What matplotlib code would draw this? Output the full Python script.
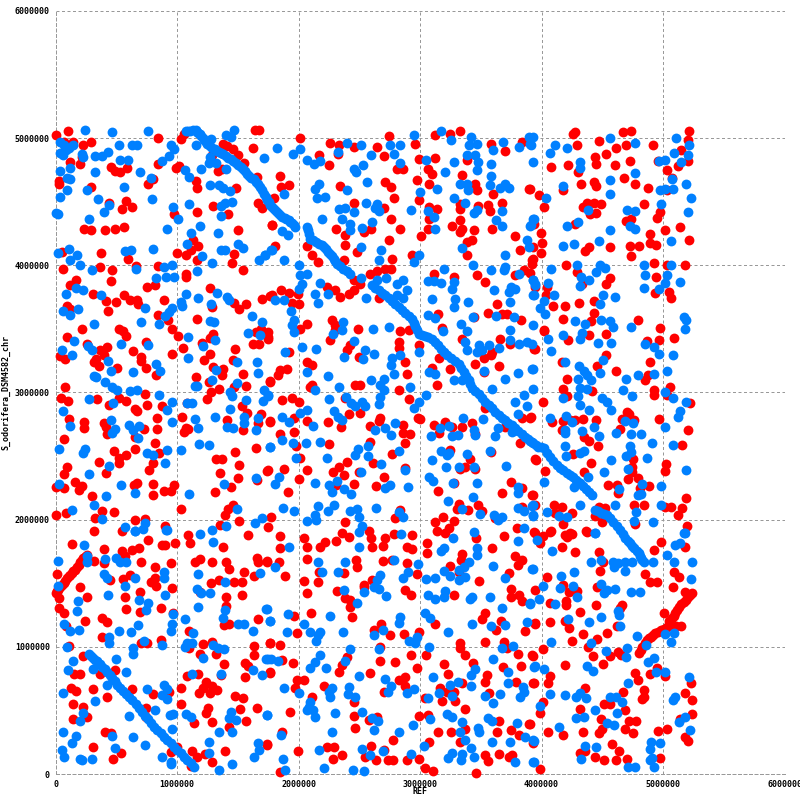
#!/usr/bin/env python
'''Dot plot of REF against S_odorifera_DSM4582_chr.

Positions below are read off the picture, in thousands of bases.
'''
import numpy as np
import matplotlib
matplotlib.use('Agg')
import matplotlib.pyplot as plt

# forward matches (red)
red_diag_low = [(0,1423),(10,1436),(20,1450),(36,1470),(52,1488),(66,1504),(80,1520),(94,1538),(107,1554),(121,1567),(135,1580),(148,1594),(162,1607),(176,1626),(190,1645),(204,1665),(218,1685),(229,1695),(240,1705),(250,1715),(259,1725)]
red_diag_high = [(4799,954),(4815,977),(4830,1000),(4848,1027),(4867,1053),(4884,1067),(4900,1080),(4918,1093),(4936,1106),(4960,1118),(4985,1130),(5008,1144),(5032,1158),(5050,1200),(5075,1225),(5088,1244),(5101,1263),(5118,1287),(5135,1310),(5152,1333),(5169,1355),(5187,1372),(5205,1390),(5222,1405),(5238,1420),(5060,1170),(5110,1165),(5150,1160)]
red_top_left = [(0,5023),(100,5054),(66,4966),(143,4970),(226,4947),(292,4968),(116,4812),(198,4797),(218,4848),(25,4665),(25,4640),(292,4618),(457,4775),(493,4739),(534,4731),(590,4762),(438,4490),(579,4509),(545,4444),(628,4459),(231,4287),(292,4279),(408,4279),(488,4287),(565,4300),(55,4104),(375,4099),(595,4052),(58,3974),(364,3987),(463,3966),(661,3992),(843,5000),(763,4640),(804,4678),(843,4796),(995,4765),(1017,4783),(1030,4992),(1058,5031),(1154,4663),(1165,4608),(1165,4420),(975,4405),(1298,4467),(1416,4405),(1504,4274),(1780,4318),(1135,4201),(1174,4151),(1118,4117),(1077,4083),(1000,4097),(1471,4091),(1452,4021),(1545,3966),(843,3992),(1168,4039),(1375,4953),(1411,4940),(1463,4914),(1504,4869),(1554,4801),(1284,4869),(1339,4739),(1369,4757),(1656,4697),(1482,4611),(1628,4921),(1640,5062),(1672,5062),(1670,4493),(1697,4451)]
red_mid_left = [(457,3878),(171,3888),(116,3846),(306,3776),(416,3718),(496,3710),(562,3768),(617,3731),(672,3728),(680,3697),(430,3639),(94,3684),(121,3658),(749,3828),(815,3846),(893,3728),(843,3610),(928,3571),(961,3500),(1011,3445),(1077,3933),(1077,3905),(1050,3351),(1168,3579),(1273,3823),(218,3500),(91,3440),(521,3500),(554,3482),(581,3445),(747,3401),(256,3383),(364,3338),(424,3356),(639,3330),(961,3304),(397,3291),(39,3286),(80,3265),(333,3265),(320,3238),(355,3207),(507,3196),(700,3283),(700,3244),(744,3196),(829,3141),(80,3045),(47,2958),(102,2934),(342,2950),(444,2898),(521,2958),(584,2937),(653,2872),(667,2853),(749,2898),(736,2990),(876,2890),(1041,2809),(113,2788),(231,2767),(231,2720),(397,2759),(416,2728),(424,2675),(727,2714),(838,2801),(838,2714),(653,2649),(74,2631),(818,2604),(479,2542),(658,2552),(851,2526),(584,2505),(521,2484),(521,2447),(355,2455),(802,2447),(769,2387),(94,2418),(74,2358),(413,2369),(157,2295),(218,2264),(190,2235),(0,2256),(74,2251),(645,2269),(672,2290),(802,2282),(802,2196),(893,2227),(948,2227),(975,2269),(300,2190),(383,2067),(479,2059),(6,2033),(88,2054),(328,2012),(653,1999),(733,2007),(898,1947),(1036,2086),(1072,2720),(1058,2688),(1094,2714),(1080,2919),(1160,3121),(1265,3081),(1204,3390),(1273,3304),(1223,3257),(1295,3461),(1270,3427),(1295,3204),(1375,3186),(1369,3139),(1479,3343),(1457,3257),(1546,3146),(1570,3055),(1471,3042),(1347,3024),(1278,3003),(1251,2950),(1532,2890),(1573,2838),(1408,2780),(1546,2707),(1479,2536),(1648,2565),(1320,2479),(1369,2479),(1510,2426),(1353,2369),(1499,2329),(1656,2314),(1741,2382),(1314,2217),(1444,2256),(1416,2086),(1394,2033),(1457,2112),(1510,1986),(1353,1955),(1697,3736),(1769,3762),(1471,3702),(1512,3658),(1568,3697),(1292,3671),(1628,3383),(1678,3383),(1650,3474),(1747,3435),(1692,3500),(1769,3081),(1692,2832),(1664,2762),(1763,2767)]
red_low_left = [(132,1808),(314,1908),(548,1908),(397,1769),(548,1751),(576,1711),(631,1764),(691,1777),(763,1837),(880,1801),(905,1801),(983,1816),(320,1672),(397,1659),(705,1667),(818,1627),(953,1659),(1088,1882),(1108,1816),(1587,1882),(1375,1782),(1146,1667),(1190,1690),(1289,1667),(1405,1667),(1424,1612),(1554,1588),(1656,1698),(1670,1667),(1739,1672),(1636,1554),(1532,1509),(1471,1509),(1347,1522),(1278,1501),(11,1572),(198,1470),(256,1391),(446,1527),(556,1533),(617,1567),(782,1507),(818,1541),(829,1480),(961,1459),(694,1430),(573,1391),(584,1297),(694,1273),(870,1302),(970,1265),(27,1383),(30,1304),(66,1265),(245,1207),(380,1226),(424,1199),(85,1160),(113,1003),(383,1076),(700,1029),(755,1029),(870,1055),(1099,1126),(1099,990),(1187,945),(1212,1021),(1289,1039),(1322,945),(1388,863),(1190,1435),(1405,1391),(1532,1407),(1405,1325),(1388,1173),(1430,1181),(1670,1220),(1636,1008),(1636,932),(1562,871),(1587,853),(1562,766),(1769,1029),(1763,798),(229,929),(493,819),(369,787),(154,785),(198,785),(129,677),(168,651),(309,669),(424,609),(631,667),(802,630),(934,643),(1036,675),(1036,549),(140,549),(226,530),(256,451),(140,436),(747,517),(741,451),(410,328),(457,320),(312,210),(540,163),(474,116),(1003,215),(948,171),(1124,179),(1168,137),(1231,157),(1119,63),(1289,92),(1397,179),(1141,399),(1287,407),(1427,373),(1565,420),(1521,509),(1659,517),(1240,483),(1256,517),(1085,767),(1176,785),(1361,780),(1479,617),(1540,601),(1185,635),(1218,675),(1242,722),(1273,635),(1284,693),(1328,661),(1739,228)]
red_top_mid = [(2009,5004),(2256,4964),(2330,4944),(2453,4930),(2324,4878),(2165,4865),(2247,4792),(2645,4930),(2700,4857),(2741,5017),(2961,4951),(3125,5022),(3243,5035),(3331,5056),(3120,4847),(2988,4839),(2810,4760),(2857,4755),(3065,4760),(3098,4721),(1849,4700),(1858,4616),(1918,4629),(1800,4532),(2343,4621),(2714,4655),(2758,4616),(2975,4668),(3070,4642),(3345,4708),(3455,4642),(3468,4595),(3386,4826),(3584,4957),(3696,4896),(3839,4970),(3894,4603),(3600,4564),(3674,4493),(2782,4532),(2988,4516),(2453,4493),(2700,4454),(3139,4440),(3070,4459),(3070,4367),(3326,4485),(3331,4446),(3474,4464),(3559,4472),(3573,4427),(2758,4362),(1781,4320),(2310,4283),(2599,4288),(2535,4262),(2385,4239),(2832,4288),(3062,4288),(3007,4234),(3263,4309),(3326,4354),(3345,4288),(3331,4262),(3441,4275),(3592,4283),(2741,4202),(3427,4202),(3386,4184),(3779,4228),(2385,4163),(3935,4328),(1808,4152),(2069,4150),(2110,4084),(2157,4029),(2481,4105),(2376,4040),(2769,4047),(2933,4084),(3386,4079),(3825,4123),(3921,4040),(3468,3922),(3537,3872),(3112,3930),(3276,3909),(3784,3922),(3853,3961),(3907,3943),(2714,3974),(2645,3956),(2590,3935),(2763,3974),(2453,3882),(2508,3856),(2453,3804),(2412,3778),(2343,3751),(2297,3804),(2234,3830),(1786,3765),(1858,3804),(1918,3785),(1992,3778),(1946,3704),(2000,3694),(2659,3744),(3633,3699),(3145,3620),(3559,3628),(3674,3620),(3715,3620),(3833,3568),(3441,3594),(2069,3542),(2014,3503),(2275,3568),(2297,3529),(2297,3489),(1748,3476),(1748,3424),(2256,3416),(2489,3500),(2837,3482),(2906,3489),(3180,3510),(3345,3424),(3655,3424),(3737,3385),(3935,3345),(2824,3398),(2824,3351),(2988,3371),(2426,3371),(2398,3332),(1918,3319),(2500,3280),(3153,3275),(2873,3240),(2074,3240),(2110,3214),(3592,3319),(3586,3293),(3523,3275),(3455,3227),(3647,3207),(3243,3183),(3098,3196),(1904,3188),(1849,3180),(1828,3136),(1767,3089),(2892,3143),(2110,3057),(2467,3057),(2508,3057),(2824,3023),(3523,3162),(3139,3057)]
red_center = [(2096,3045),(1863,2940),(1946,2953),(2000,2922),(1762,2775),(1959,2796),(2069,2775),(2239,2765),(1967,2686),(1849,2670),(1978,2581),(2014,2482),(2247,2592),(2349,2731),(2412,2827),(2508,2835),(2385,2953),(2585,2733),(2673,2796),(2659,2775),(2859,2744),(2856,2678),(2920,2670),(2878,2600),(2590,2613),(2769,2513),(2906,2948),(2983,2796),(3002,2788),(3112,2744),(3153,2678),(3208,2765),(3262,2730),(3345,2730),(3455,2670),(3427,2757),(3537,2875),(3702,2730),(3839,2796),(3913,2804),(3825,2600),(1745,2390),(1877,2395),(2074,2390),(2000,2317),(1910,2214),(2398,2450),(2330,2416),(2283,2372),(2371,2351),(2494,2372),(2610,2442),(2700,2332),(2453,2280),(2310,2272),(2640,2264),(2873,2403),(3145,2225),(3243,2547),(3414,2476),(3372,2416),(3331,2395),(3455,2395),(3276,2285),(3584,2534),(3749,2293),(3674,2206),(3839,2246),(3921,2193),(3943,2476),(3318,2120),(3304,2083),(3394,2075),(3474,2115),(3510,2068),(3619,2010),(3839,2102),(2837,2075),(2796,2010),(1773,2018),(1748,1939),(2379,1978),(3120,1978),(3189,2018),(3276,1989),(3139,1910),(3208,1892),(3235,1931),(1849,1874),(2042,1853),(2069,1787),(2220,1827),(2179,1787),(2310,1832),(2357,1897),(2412,1866),(2577,1910),(2596,1858),(2708,1858),(2692,1790),(2604,1782),(2782,1884),(2933,1879),(2892,1787),(2933,1769),(3057,1814),(3057,1740),(3460,1853),(3592,1774),(3688,1871),(3798,1931),(3935,1905),(1849,1774),(1740,1669),(1836,1669),(2074,1690),(2472,1682),(2481,1630),(2692,1675),(2769,1682),(2892,1656),(3345,1730),(3339,1682),(3784,1717),(3839,1682),(3803,1643),(2165,1586),(2371,1578),(1891,1557),(2042,1520),(2157,1512),(3729,1578),(2974,1570),(3482,1520),(2535,1486),(2604,1525),(3249,1638),(3318,1591)]
red_bottom_mid = [(2069,1425),(2316,1439),(2385,1386),(2426,1368),(2426,1315),(2535,1473),(2873,1446),(2928,1407),(3276,1407),(1967,1245),(2102,1263),(2439,1237),(3120,1177),(3531,1268),(3510,1216),(3666,1203),(3625,1132),(3748,1452),(3751,1389),(3817,1407),(3839,1363),(3949,1184),(3866,1124),(2618,1132),(2681,1179),(2755,1093),(2865,1098),(2988,1119),(1987,1106),(1767,1027),(1849,1014),(2673,1001),(3331,1027),(3326,988),(3367,935),(3531,1035),(3693,1035),(3715,988),(3803,943),(3921,935),(1863,896),(1951,870),(2398,917),(2357,857),(2330,799),(2667,888),(2791,883),(2928,935),(3049,935),(2974,831),(3194,862),(3436,870),(3680,839),(3833,849),(1767,799),(2590,791),(3227,784),(3551,778),(3537,721),(1987,739),(2042,739),(1973,673),(2878,760),(2824,739),(2873,692),(2206,694),(3792,721),(3935,713),(3345,718),(3167,673),(3221,647),(3276,647),(2700,642),(2110,608),(2453,563),(3043,595),(3180,577),(3290,574),(3564,634),(3367,508),(1932,485),(2453,456),(2645,446),(2577,425),(2993,456),(3065,464),(2461,359),(3647,417),(3894,390),(3748,346),(3811,307),(3367,351),(3331,249),(3145,328),(3257,328),(3633,333),(1863,333),(2774,265),(3070,249),(1740,233),(1999,178),(2234,210),(2289,210),(2596,218),(2700,189),(2357,149),(2549,136),(2283,115),(2637,108),(2736,108),(2774,110),(2892,108),(2988,115),(3038,50),(3106,26),(3537,149),(3559,102),(3647,155),(3757,149),(3729,136),(1849,13),(3463,5)]
red_bottom_right = [(3948,1897),(4011,1871),(4072,1905),(4209,1866),(4250,1887),(3989,1818),(4168,1787),(4272,1742),(4373,1905),(4470,1742),(4983,1821),(4930,1761),(5183,1782),(4505,1664),(4478,1593),(4854,1570),(5087,1585),(5128,1546),(4895,1507),(4950,1507),(5079,1473),(5177,1433),(4044,1546),(4181,1486),(4223,1433),(4291,1441),(4456,1467),(3943,1446),(4072,1342),(4201,1363),(4201,1328),(4448,1328),(4662,1328),(4648,1302),(4313,1276),(5005,1263),(3948,1177),(4066,1192),(4195,1205),(4223,1145),(4620,1166),(4538,1106),(4338,1098),(4255,1048),(4456,1059),(4379,996),(4011,980),(3929,930),(4420,928),(4566,930),(4626,962),(4653,936),(4190,857),(4505,862),(4766,791),(4791,739),(4889,784),(4950,831),(5018,770),(4072,770),(4050,718),(3934,713),(5230,713),(4354,679),(4670,642),(4840,660),(4840,608),(4826,590),(5177,634),(5238,579),(4511,548),(4566,550),(4011,569),(3984,482),(4319,508),(4684,501),(5238,472),(5142,430),(4491,432),(4722,419),(4777,414),(4684,356),(4749,320),(4470,320),(4497,351),(4338,328),(4050,328),(4181,304),(4955,338),(5037,351),(5177,288),(5205,257),(3907,390),(3934,241),(4579,233),(4634,178),(4319,163),(4360,178),(4437,136),(4513,110),(4612,110),(4700,118),(4972,128),(3989,42)]
red_top_right = [(4277,5048),(4258,5030),(4667,5051),(4736,5056),(4470,4978),(4291,4949),(4695,4949),(4612,4925),(4914,4949),(5210,5056),(5202,4983),(5147,4909),(4530,4878),(4437,4852),(4448,4799),(4077,4773),(4214,4792),(4297,4734),(4601,4792),(4730,4820),(4958,4820),(5120,4781),(5202,4820),(5037,4747),(5073,4689),(3907,4603),(3976,4550),(4181,4590),(4321,4642),(4428,4655),(4448,4624),(4681,4687),(4769,4642),(4873,4611),(5032,4590),(4017,4459),(4338,4459),(4373,4493),(4428,4493),(4489,4485),(4401,4406),(4448,4414),(4840,4485),(4977,4420),(4950,4375),(4736,4367),(4695,4346),(4277,4328),(5136,4302),(3995,4257),(5018,4275),(4895,4249),(5210,4197),(4003,4178),(4889,4178),(4941,4163),(4725,4155),(4802,4155),(4560,4147),(4395,4147),(4354,4113),(3934,4144),(3995,4100),(4736,4076),(3934,4053),(3921,4013),(4198,4005),(4922,4021),(5037,4005),(5177,4005),(4291,3948),(4566,3901),(4527,3856),(4332,3856),(4939,3909),(4936,3783),(5046,3793),(5065,3744),(4044,3830),(3948,3830),(4039,3764),(4091,3683),(4190,3683),(4305,3707),(4434,3717),(4428,3628),(4181,3578),(4791,3573),(4409,3560),(4972,3510),(4017,3495)]
red_mid_right = [(4017,3482),(4217,3416),(4395,3456),(4530,3463),(3943,3346),(4867,3403),(4963,3411),(5087,3432),(4533,3298),(4456,3209),(4612,3167),(4889,3236),(4168,3236),(4873,3141),(4848,3097),(4209,3110),(4181,3026),(4209,2971),(4415,3013),(4930,3018),(4930,2979),(5059,3044),(5032,2979),(4009,2926),(3907,2803),(4703,2848),(4722,2827),(4085,2769),(4173,2774),(4236,2782),(4277,2782),(4338,2788),(4448,2782),(4662,2788),(4758,2782),(4963,2788),(5219,2918),(5205,2709),(4168,2704),(4648,2712),(4346,2651),(4395,2620),(4461,2578),(5155,2591),(4258,2520),(3956,2473),(4409,2442),(4752,2476),(5027,2434),(5018,2381),(4030,2381),(4352,2376),(4744,2415),(4744,2376),(4708,2316),(4791,2329),(4544,2271),(4620,2271),(4626,2211),(4812,2250),(4881,2261),(5186,2174),(3929,2193),(3948,2114),(4105,2114),(4168,2098),(4113,2049),(4255,2049),(4470,2101),(4524,2093),(4442,2028),(4502,1978),(4758,2114),(4840,2112),(5018,2098),(5065,2096),(5155,2088),(5120,2033),(4173,1962),(4771,1965),(5197,1949),(4077,1910),(4368,1910),(4236,1892),(4195,1879)]

# reverse matches (blue)
blue_diag_top = [(1072,5057),(1090,5058),(1110,5060),(1132,5061),(1154,5062),(1165,5051),(1175,5040),(1186,5029),(1196,5018),(1210,5002),(1225,4985),(1238,4969),(1251,4953),(1270,4939),(1290,4925),(1312,4912),(1333,4900),(1349,4892),(1365,4885),(1382,4872),(1400,4860),(1422,4847),(1444,4835),(1465,4820),(1485,4805),(1505,4787),(1526,4770),(1543,4754),(1560,4738),(1577,4721),(1595,4705),(1612,4690),(1630,4675),(1647,4657),(1664,4640),(1682,4615),(1700,4590),(1716,4562),(1733,4535),(1744,4515),(1755,4495),(1768,4477),(1781,4459),(1798,4442),(1815,4425),(1832,4409),(1849,4393),(1867,4384),(1885,4375),(1901,4364),(1918,4354),(1932,4342),(1945,4330),(1959,4316),(1973,4302),
    (2069,4302),(2077,4276),(2085,4250),(2096,4210),(2120,4197),(2145,4185),(2168,4171),(2192,4157),(2210,4141),(2228,4125),(2245,4108),(2261,4092),(2276,4071),(2290,4050),(2303,4031),(2316,4013),(2343,3994),(2370,3975),(2398,3955),(2426,3935),(2604,3843),(2632,3824),(2660,3805),(2687,3785),(2714,3765),(2742,3742),(2770,3720),(2797,3696),(2824,3673),(2852,3649),(2880,3625),(2907,3603),(2933,3581),(2947,3550),(2960,3520),(2974,3491),(2988,3463),(3014,3454),(3040,3445),(3069,3434),(3098,3424),(3122,3397),(3145,3370),(3170,3344),(3194,3319),(3225,3297),(3255,3275),(3287,3251),(3318,3227),(3340,3193),(3360,3160),(3380,3128),(3400,3096),(3414,3064),(3427,3032),(3455,3008),(3482,2985),(3510,2956),(3537,2927),(3564,2901),(3590,2875),(3618,2848),(3647,2822),(3674,2802),(3700,2782),(3728,2763),(3757,2744),(3784,2722),(3810,2700),(3838,2676),(3866,2652),(3885,2633),(3905,2615),(3920,2607),(3934,2599),(3955,2587),(3975,2575),(3996,2568),(4017,2560),(4044,2527),(4070,2495),(4098,2462),(4127,2429),(4154,2410),(4180,2390),(4208,2370),(4236,2350),(4258,2332),(4280,2315),(4300,2300),(4319,2285),(4342,2262),(4365,2240),(4390,2216),(4415,2193),
    (4442,2075),(4466,2065),(4490,2055),(4514,2045),(4538,2036),(4564,2010),(4590,1985),(4620,1950),(4648,1915),(4670,1885),(4690,1855),(4710,1834),(4730,1813),(4748,1794),(4765,1775),(4782,1755),(4799,1735),(4810,1717),(4820,1700),(4830,1685),(4840,1669)]
blue_diag_low = [(273,945),(289,930),(305,915),(323,900),(342,885),(363,865),(385,845),(405,826),(424,806),(445,780),(465,755),(486,728),(507,701),(531,678),(555,655),(579,632),(603,609),(632,580),(660,550),(686,520),(713,491),(737,460),(760,430),(785,401),(810,373),(838,346),(865,320),(892,294),(920,268),(947,241),(975,215),(1002,189),(1030,163),(1057,136),(1085,110),(1113,84),(1141,58)]
blue_top_left = [(240,5062),(463,5047),(760,5057),(33,4966),(66,4945),(107,4926),(143,4947),(39,4882),(61,4867),(85,4910),(218,4874),(226,4853),(328,4859),(383,4861),(430,4890),(521,4947),(631,4947),(672,4947),(529,4827),(595,4827),(39,4739),(116,4762),(325,4733),(694,4733),(94,4684),(116,4679),(788,4686),(562,4619),(94,4592),(259,4592),(41,4540),(347,4519),(793,4519),(438,4477),(397,4420),(0,4412),(19,4402),(273,4365),(920,4287),(1008,4365),(967,4459),(19,4099),(107,4130),(576,4112),(620,4117),(802,4130),(176,4078),(121,4044),(198,4005),(300,3966),(661,3974),(893,3987),(956,4005),(953,4945),(975,4911),(934,4859),(873,4822),(1066,4752),(1102,4692),(1198,4757),(1273,4632),(1347,4632),(1375,4606),(1438,4582),(1099,4483),(1361,4465),(1394,4491),(1449,4501),(1361,4389),(1190,4311),(1339,4256),(1116,4251),(1083,4170),(1207,4073),(1287,4021),(1361,4123),(1397,4123),(1501,4164),(1545,4138),(1678,4044),(1727,4078),(1775,4117),(1719,4843),(1471,5062),(1402,5023),(1444,5010),(1154,4945),(1273,4848),(1265,4801),(1320,4804),(1405,4757),(1278,4997)]
blue_mid_left = [(827,3899),(909,3907),(975,3907),(1168,3959),(171,3823),(226,3807),(85,3776),(375,3768),(58,3639),(116,3610),(185,3658),(736,3665),(961,3665),(934,3631),(901,3605),(1036,3710),(1044,3684),(1074,3776),(1176,3744),(1328,3783),(1411,3749),(1424,3728),(1281,3697),(1273,3566),(1306,3553),(1614,3605),(1697,3558),(705,3555),(851,3542),(314,3540),(1091,3438),(1581,3469),(1686,3453),(149,3406),(537,3383),(760,3375),(1314,3414),(1215,3369),(50,3335),(264,3369),(300,3335),(132,3296),(1094,3272),(430,3246),(457,3170),(827,3225),(859,3170),(639,3160),(1496,3241),(1656,3238),(1325,3178),(1670,3155),(314,3128),(331,3120),(408,3081),(466,3047),(507,3021),(617,3008),(667,3016),(851,2979),(1146,3055),(1168,3055),(1292,3100),(1493,3076),(1438,3003),(1449,2971),(1570,2942),(1719,3021),(1747,2969),(1711,2934),(273,2950),(471,2919),(961,2929),(920,2864),(58,2856),(1085,2919),(1121,2919),(1438,2872),(1314,2809),(1152,2793),(457,2785),(961,2767),(116,2738),(1554,2806),(1554,2762),(1664,2798),(603,2748),(636,2709),(686,2733),(493,2714),(463,2683),(1176,2720),(1411,2728),(1457,2720),(1648,2707),(678,2644),(240,2557),(223,2526),(28,2557),(1182,2597),(1267,2589),(920,2547),(1036,2549),(749,2526),(804,2510),(901,2447),(438,2421),(278,2358),(540,2269),(30,2282),(1383,2279),(1648,2329),(653,2211),(1099,2203),(413,2185),(314,2112),(132,2078),(1493,2086),(1703,2015),(380,2007),(1642,1976),(736,1976),(722,1929),(568,1942),(653,1910),(912,1921),(1289,1921),(1402,1953),(1769,2570)]
blue_low_left = [(231,1801),(17,1672),(259,1711),(259,1667),(408,1690),(496,1698),(529,1667),(581,1667),(397,1572),(424,1541),(658,1541),(893,1588),(893,1541),(17,1475),(570,1475),(430,1404),(182,1360),(176,1278),(686,1370),(760,1344),(744,1291),(901,1409),(74,1178),(116,1126),(193,1129),(521,1123),(620,1115),(678,1171),(438,1076),(438,1029),(727,1042),(879,1011),(967,1255),(959,1179),(950,1123),(1066,1218),(1130,1108),(1085,1034),(1121,1029),(1069,997),(94,997),(639,990),(636,942),(496,903),(140,890),(99,816),(309,824),(579,803),(424,701),(755,669),(893,701),(915,667),(873,622),(915,590),(325,572),(63,635),(821,504),(226,483),(204,417),(606,457),(945,462),(967,470),(1074,470),(1113,451),(959,357),(639,289),(61,328),(168,299),(463,299),(736,226),(132,241),(490,202),(55,189),(74,131),(198,116),(218,110),(300,118),(876,136),(948,92),(948,75),(1265,249),(1265,163),(1347,31),(1455,76),(1455,331),(1347,331),(1670,241),(1678,189),(1636,136),(1427,438),(1444,486),(1482,425),(1741,462),(1127,785),(1361,787),(1628,819),(1697,780),(1733,908),(1770,905),(1300,1011),(1339,990),(1383,982),(1212,911),(1380,1226),(1397,1291),(1504,1178),(1548,1178),(1628,1123),(1730,1299),(1763,1207),(1176,1312),(1162,1454),(1196,1423),(1273,1423),(1176,1572),(1397,1512),(1686,1580),(1190,1887),(1298,1824),(653,1908),(915,1921)]
blue_top_mid = [(1822,4925),(1951,4878),(2009,4917),(2069,4831),(2124,4799),(2179,4820),(2324,4891),(2398,4964),(2514,4949),(2593,4865),(2527,4792),(2453,4760),(2472,4734),(2755,4944),(2837,4944),(2782,4878),(2832,4807),(2953,5027),(3169,5056),(3252,4988),(3419,5009),(3400,4944),(3468,4951),(3386,4870),(3449,4865),(3474,4813),(3466,4752),(3049,4831),(3276,4813),(3202,4734),(3581,4799),(3600,4909),(3680,4970),(3812,4930),(3894,5009),(3916,4944),(3584,4702),(3573,4634),(2563,4655),(2165,4642),(2138,4598),(2398,4595),(2151,4530),(2214,4537),(1877,4564),(3139,4603),(2996,4577),(3331,4642),(3386,4642),(3392,4590),(3660,4608),(3702,4642),(3729,4608),(3276,4532),(3367,4493),(2555,4493),(2645,4485),(2632,4454),(2659,4425),(2330,4446),(2385,4454),(2453,4419),(2922,4438),(3062,4425),(3112,4380),(3441,4412),(3468,4433),(3674,4427),(2195,4367),(2357,4367),(2426,4328),(2426,4275),(2522,4296),(2604,4341),(3120,4288),(3625,4359),(3674,4309),(3907,4309),(3935,4367),(1863,4270),(1913,4241),(3345,4139),(3880,4202),(3894,4144),(2514,4144),(2678,4118),(1786,4118),(1726,4084),(1877,4045),(2988,4084),(2947,4029),(2659,4040),(3696,4079),(2000,4005),(3433,4000),(3194,3974),(3584,3961),(3702,3987),(3688,3961),(3811,3935),(3929,3882),(3949,3843),(2014,3922),(2069,3935),(2028,3856),(2000,3817),(2179,3864),(2514,3903),(2645,3888),(2719,3903),(2810,3856),(2857,3882),(2892,3809),(3065,3877),(3112,3877),(3175,3861),(3282,3872),(3263,3812),(3606,3809),(3751,3830),(3729,3791),(3784,3817),(2132,3778),(2239,3778),(1803,3725),(1877,3725),(1937,3641),(2157,3707),(2555,3746),(2810,3764),(2857,3746),(3095,3738),(3285,3738),(3276,3673),(3392,3715),(3740,3715),(3935,3764),(3062,3613),(3125,3589),(3436,3594),(3625,3602),(3770,3594),(3337,3537),(1967,3568),(1946,3529),(1959,3476),(2365,3555),(2357,3495),(2283,3463),(2610,3503),(2741,3516),(3189,3484),(3737,3489),(3386,3482),(3372,3398),(3386,3332),(3743,3411),(3811,3385),(3880,3398),(3921,3385),(3482,3371),(3510,3332),(3468,3319),(3564,3371),(3647,3351),(2453,3406),(2028,3358),(2143,3345),(1891,3319),(2544,3337),(2618,3306),(2988,3319),(2371,3280),(2527,3261),(2769,3275),(2837,3293),(2763,3214),(2782,3149),(2074,3162),(2239,3128),(2593,3102),(2700,3109),(2673,3057),(2700,3023),(3070,3162),(3125,3149),(3529,3170),(3803,3157),(3696,3109),(3921,3188),(3276,3096),(3345,3096),(2920,3044),(2138,3023),(2330,3044),(3592,3031)]
blue_center = [(2247,2948),(2393,2961),(2434,2914),(2467,2896),(2522,2922),(2544,2896),(2659,2906),(2673,2966),(2289,2856),(2324,2809),(2357,2783),(2069,2862),(2009,2835),(1863,2804),(1918,2765),(2116,2733),(1748,2979),(3049,2979),(2988,2927),(2947,2882),(3353,2796),(3515,2788),(3161,2717),(3235,2733),(3441,2704),(3455,2665),(3262,2660),(3312,2665),(3090,2657),(3779,2922),(3853,2979),(3880,2896),(3803,2830),(3641,2717),(3619,2657),(3757,2691),(2796,2757),(2632,2704),(2714,2717),(2763,2665),(1863,2626),(1954,2600),(2061,2600),(2173,2607),(1762,2568),(2571,2579),(2489,2555),(2461,2508),(2568,2503),(1978,2482),(2231,2482),(2824,2539),(3175,2539),(3222,2508),(3235,2521),(3383,2516),(3573,2539),(3098,2466),(2681,2437),(2878,2390),(3210,2411),(3318,2411),(3441,2416),(3707,2419),(2516,2377),(1836,2332),(1803,2277),(2138,2285),(2247,2272),(2316,2306),(2275,2214),(2371,2238),(2431,2201),(2708,2246),(2749,2272),(2900,2259),(3076,2332),(3106,2306),(3271,2285),(3466,2285),(3803,2259),(3803,2206),(3433,2175),(3227,2146),(3921,2110),(3803,2089),(3853,2068),(3929,2036),(1869,2089),(1967,2068),(2157,2110),(2289,2115),(2239,2070),(2420,2068),(2481,2083),(2494,2018),(2637,2089),(2824,2062),(2856,2018),(2132,2036),(2143,1997),(2069,1989),(3345,2083),(3496,2044),(3606,2036),(3674,2023),(3641,1997),(2522,1952),(2494,1905),(2845,1884),(3853,1931),(3441,1905),(3268,1853),(3803,1832),(1918,1782),(2494,1782),(3468,1774),(3468,1722),(3194,1779),(3172,1756),(2157,1664),(2385,1664),(2782,1682),(3400,1664),(3359,1630),(3318,1604),(3600,1638),(2980,1648),(1808,1625),(2192,1586),(2324,1586),(2673,1565),(2645,1525),(2898,1591),(3194,1599),(3921,1609),(3243,1557),(2859,1538),(3051,1531),(3125,1538),(3318,1525),(3372,1546),(3696,1538)]
blue_bottom_mid = [(2371,1446),(2541,1428),(2618,1473),(2659,1452),(2719,1399),(2481,1342),(3062,1407),(3125,1373),(3194,1394),(3208,1441),(3427,1394),(3408,1373),(3573,1389),(3674,1302),(3902,1342),(1740,1294),(1762,1205),(1910,1258),(2256,1245),(2042,1177),(2837,1237),(2829,1190),(3043,1263),(3084,1224),(3427,1177),(3584,1166),(3702,1171),(3880,1192),(1904,1114),(2096,1114),(2179,1119),(2160,1093),(2143,1048),(2365,1114),(2618,1093),(2692,1132),(2906,1046),(2961,1027),(2974,1079),(3227,1114),(3070,996),(2423,980),(2664,980),(3674,988),(3762,1006),(2173,933),(2138,883),(2091,831),(1753,901),(1830,891),(2379,891),(2228,831),(3597,904),(3935,844),(3449,823),(3419,778),(3721,799),(2494,773),(3104,765),(2708,744),(2763,694),(2733,642),(3312,726),(3249,700),(3419,694),(3724,713),(1877,673),(2275,679),(2247,647),(2256,608),(2412,681),(2404,626),(2467,603),(2947,666),(2892,634),(3153,634),(3262,616),(3655,626),(3847,687),(3853,647),(3825,608),(3537,613),(2000,634),(3062,595),(2091,569),(2083,529),(2069,503),(2118,503),(2138,451),(3600,556),(2302,477),(1740,464),(2522,485),(2604,438),(2654,419),(3221,469),(3262,446),(3084,435),(3345,411),(3556,438),(3592,419),(3795,398),(2942,383),(3477,359),(3482,333),(2618,346),(2275,333),(1855,307),(2824,328),(3331,328),(3866,294),(3935,260),(3367,265),(3592,249),(3740,249),(3029,223),(2165,189),(2522,197),(2692,181),(3419,202),(3262,163),(3230,123),(3345,157),(3337,108),(2590,149),(2928,155),(3441,134),(1869,115),(3779,92),(3935,92),(2206,45),(1891,32),(2445,32),(2535,24)]
blue_bottom_right = [(4437,1892),(3967,1839),(4085,1750),(5177,1892),(5101,1800),(5142,1813),(5037,1719),(5087,1664),(5235,1664),(4404,1664),(4486,1682),(4587,1669),(4593,1630),(4626,1661),(4689,1664),(4744,1669),(4684,1593),(4917,1664),(4264,1585),(3929,1609),(4159,1556),(4009,1478),(4154,1460),(4256,1478),(4486,1494),(4538,1446),(4511,1420),(4601,1452),(4736,1428),(4807,1428),(5227,1530),(4291,1389),(3976,1373),(4107,1336),(3907,1336),(4629,1281),(4634,1250),(4486,1237),(4214,1216),(4390,1192),(4642,1166),(5018,1098),(5087,1106),(5065,1035),(4785,1085),(4077,1035),(4406,1027),(4856,1011),(4533,970),(4703,988),(4695,922),(4922,912),(4878,878),(3943,849),(4017,823),(4373,849),(4420,807),(4941,799),(5016,804),(5210,765),(4708,713),(4066,626),(4190,618),(4283,608),(4313,639),(4365,595),(4566,608),(4612,603),(4662,569),(5098,608),(5079,582),(3984,535),(4437,501),(4620,477),(4283,438),(4346,451),(5183,446),(5128,406),(4538,398),(4593,388),(4140,367),(5219,343),(3934,267),(4354,223),(4448,215),(4903,249),(4972,241),(4889,199),(4909,123),(4889,110),(4922,58),(4327,118),(4716,58),(4766,58),(3929,92)]
blue_top_right = [(4560,5004),(5103,5004),(4766,4964),(5210,4949),(4113,4944),(4072,4886),(4209,4925),(5087,4886),(5205,4870),(3907,4957),(3929,5009),(3934,4815),(4319,4815),(4313,4768),(4963,4820),(5018,4826),(5147,4815),(4766,4729),(5073,4682),(4566,4674),(5186,4642),(4173,4621),(4977,4595),(5018,4598),(5079,4603),(4560,4564),(5230,4532),(4039,4532),(4983,4485),(4379,4433),(4703,4433),(4769,4425),(5202,4422),(3934,4367),(3915,4315),(4299,4341),(4209,4312),(4725,4307),(4769,4288),(4566,4275),(5065,4189),(4181,4155),(4269,4171),(4470,4189),(4077,3974),(4291,4005),(4483,4005),(4524,3982),(4448,3948),(4840,4005),(5065,4005),(4848,3922),(5037,3922),(4327,3909),(4395,3882),(4319,3835),(5136,3872),(5018,3864),(4963,3817),(4840,3825),(3934,3882),(3948,3856),(4050,3864),(3934,3764),(4105,3764),(4505,3764),(4483,3699),(4601,3751),(4017,3717),(3984,3668),(4030,3620),(4272,3560),(4362,3542),(4491,3573),(4566,3560),(4585,3516),(4736,3516),(5175,3594),(5186,3568),(5177,3503),(3934,3529)]
blue_mid_right = [(4173,3450),(4332,3471),(4319,3419),(4464,3393),(4568,3393),(4050,3424),(4077,3325),(4854,3385),(4930,3359),(4963,3306),(5081,3298),(4505,3254),(4190,3241),(3929,3188),(4305,3207),(4346,3167),(4373,3136),(4406,3102),(4297,3110),(4478,3157),(4695,3110),(4791,3141),(4930,3149),(5037,3167),(3934,3031),(4319,3039),(4373,3031),(4667,3023),(5013,3005),(4744,2971),(5081,2960),(4297,2971),(4173,2953),(4502,2960),(4543,2926),(4568,2866),(5186,2926),(4319,2900),(4387,2866),(5142,2853),(5123,2809),(4066,2803),(4201,2816),(4250,2769),(4684,2777),(4749,2764),(4428,2725),(5013,2725),(4332,2701),(4190,2709),(4190,2683),(4612,2685),(4736,2670),(4823,2670),(4470,2654),(4906,2599),(5081,2591),(4725,2578),(4736,2533),(4697,2499),(4190,2581),(4352,2539),(4319,2528),(4203,2502),(4568,2473),(4865,2481),(4708,2402),(5186,2387),(4516,2371),(4017,2298),(4379,2332),(4264,2253),(4826,2277),(4634,2245),(4983,2261),(4791,2193),(4818,2198),(4319,2112),(4601,2112),(4983,2112),(3929,2112),(3934,2030),(4044,2062),(4148,2028),(4209,2020),(4774,2062),(4758,1988),(4914,1978),(5175,1899),(4437,1899)]

ticks = [0, 1000000, 2000000, 3000000, 4000000, 5000000, 6000000]

red_all = (red_diag_low + red_diag_high + red_top_left + red_mid_left + red_low_left + red_top_mid
           + red_center + red_bottom_mid + red_bottom_right + red_top_right + red_mid_right)
blue_all = (blue_top_left + blue_mid_left + blue_low_left + blue_top_mid + blue_center + blue_bottom_mid
            + blue_bottom_right + blue_top_right + blue_mid_right + blue_diag_top + blue_diag_low)
red_pts = np.array(red_all) * 1000
blue_pts = np.array(blue_all) * 1000

fig = plt.figure(figsize=(8, 8), dpi=100)
ax = fig.add_axes([55.5 / 800, 26.0 / 800, 729.0 / 800, 763.0 / 800])

ax.scatter(red_pts[:, 0], red_pts[:, 1], s=50, c='#ff0000', linewidths=0, clip_on=False, zorder=3, antialiased=False)
ax.scatter(blue_pts[:, 0], blue_pts[:, 1], s=50, c='#0080ff', linewidths=0, clip_on=False, zorder=4, antialiased=False)

ax.set_xlim(0, 6000000)
ax.set_ylim(0, 6000000)
ax.set_xticks(ticks)
ax.set_yticks(ticks)
ax.set_xticklabels([str(t) for t in ticks])
ax.set_yticklabels([str(t) for t in ticks])
ax.grid(True, color='#999999', linestyle=(0, (3, 2.5)), linewidth=0.72)
ax.set_axisbelow(True)
for side in ['top', 'right']:
    ax.spines[side].set_visible(False)
for side in ['left', 'bottom']:
    ax.spines[side].set_color('#999999')
    ax.spines[side].set_linestyle((0, (3, 2.5)))
    ax.spines[side].set_linewidth(0.72)
ax.tick_params(length=0, pad=4, labelsize=6, labelfontfamily='DejaVu Sans Mono')
for label in ax.get_xticklabels() + ax.get_yticklabels():
    label.set_fontweight('bold')
ax.set_xlabel('REF', fontsize=6, family='DejaVu Sans Mono', fontweight='bold', labelpad=-1)
ax.set_ylabel('S_odorifera_DSM4582_chr', fontsize=6, family='DejaVu Sans Mono', fontweight='bold', labelpad=3)

fig.savefig('out.png', dpi=100)
